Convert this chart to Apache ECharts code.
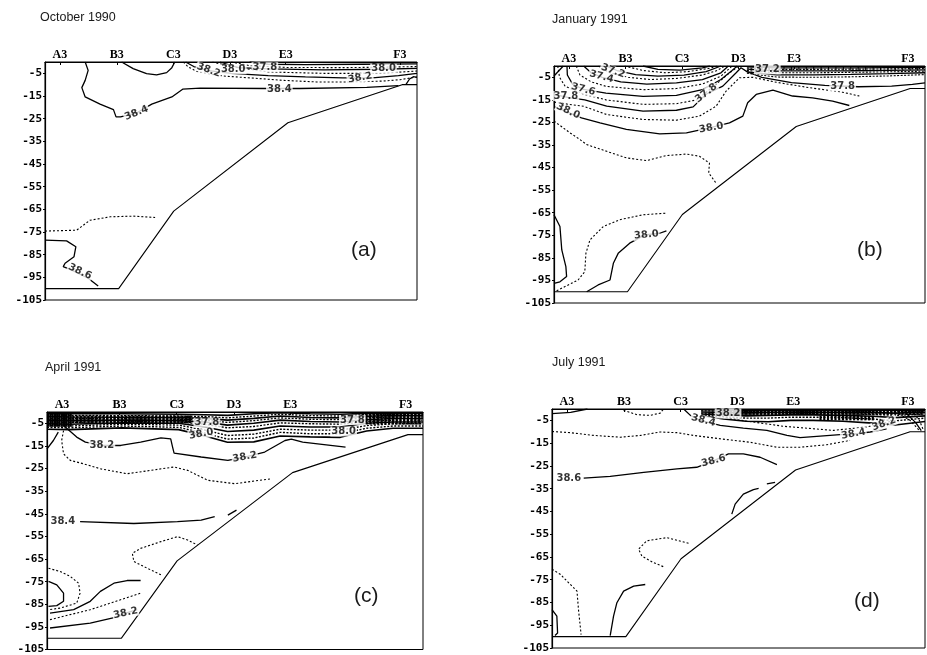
<!DOCTYPE html>
<html><head><meta charset="utf-8">
<script src="https://cdn.jsdelivr.net/npm/echarts@6/dist/echarts.min.js"></script>
<style>html,body{margin:0;padding:0;background:#fff}#c{width:927px;height:655px}</style>
</head><body><div id="c"></div>
<script>
// ---------- DATA ----------
const months = ['October 1990', 'January 1991', 'April 1991', 'July 1991'];
const letters = ['(a)', '(b)', '(c)', '(d)'];
const stations = ['A3', 'B3', 'C3', 'D3', 'E3', 'F3'];
const stationX = [4.0, 19.3, 34.5, 49.7, 64.7, 95.4];
const depthTicks = [-5, -15, -25, -35, -45, -55, -65, -75, -85, -95, -105];
const bottomProfile = [[0,-100],[19.8,-100],[34.6,-65.8],[65.3,-26.8],[96,-10],[100,-10]];

// Panel (a) October 1990
const octSolid = [
  [[10.8,0],[11.6,-3.7],[10.8,-8.1],[9.9,-11.3],[10.8,-15.4],[14.8,-18.6],[18.4,-21],[19.1,-24.2],[20.3,-24.2],[24.6,-22.5],[28.7,-18.6],[34.1,-15.4],[37,-12],[41.7,-11.5],[59.6,-11.7],[68.5,-11.7],[86.5,-11.2],[95,-10.4]],
  [[20.6,0],[23.7,-2.9],[27.3,-5.1],[30,-5.7],[32.7,-4.7],[34.1,-2.5],[34.9,0]],
  [[0,-78.6],[5.8,-78.9],[8.3,-81.5],[7.8,-85.9],[5.4,-88.8],[4.9,-90.3],[7.2,-91.8],[11.6,-95.4],[14.3,-98.8]],
  [[97,-10],[98,-7.5],[99,-6.5],[100,-6.8]],
  [[37.8,0],[40,-2],[44,-3.8],[50,-5],[60,-6],[70,-6.6],[80,-7],[88,-7],[95,-6],[100,-5]],
  [[47,0],[52,-2.5],[60,-3],[75,-3.5],[90,-3.2],[100,-2.8]],
  [[55,0],[60,-1],[70,-1.2],[85,-1],[100,-0.8]]
];
const octDotted = [
  [[37.2,0],[38.5,-2.2],[40.8,-4.1],[44.4,-5.4],[48.8,-6.3],[55.1,-7],[64.1,-8.1],[73,-8.8],[82,-8.8],[91,-8.4],[95.4,-7.8],[100,-6.6]],
  [[45,0],[50,-2],[60,-4.4],[75,-5],[90,-5],[100,-4]],
  [[50,0],[55,-1.6],[65,-2.4],[80,-2.5],[90,-2.3],[100,-2]],
  [[0,-74.6],[8.5,-74.2],[12.1,-69.8],[17.5,-68.3],[23.7,-68],[29.6,-68.6]]
];
const octLabels = [[24.6,-22.5,'38.4'],[63,-12,'38.4'],[9.4,-92.5,'38.6'],[44,-3.6,'38.2'],[50.6,-3.2,'38.0'],[59.1,-2.3,'37.8'],[84.7,-7,'38.2'],[91,-3,'38.0']];
const octHatch = [];

// Panel (b) January 1991
const janBandX = [52, 56, 60, 70, 80, 90, 100];
const janBandSolid = [
  [-0.4,-0.6,-0.8,-0.8,-0.8,-0.7,-0.6],
  [-1.4,-1.8,-2.2,-2.2,-2.1,-1.9,-1.7],
  [-2.6,-3.3,-3.9,-3.9,-3.7,-3.4,-3.0]
];
const janBandDotted = [
  [-0.9,-1.2,-1.5,-1.5,-1.4,-1.3,-1.1],
  [-2.0,-2.5,-3.0,-3.0,-2.8,-2.6,-2.3],
  [-3.2,-4.1,-4.9,-5.0,-4.8,-4.4,-3.8]
];
const janSolid = [
  [[0,-65.9],[1.6,-71.1],[2.1,-81.5],[3.2,-88.9],[3.4,-93.3],[1.6,-95.6],[0,-96.3]],
  [[8.8,-100],[11.9,-97],[15.1,-94.8],[16,-87.4],[17.3,-83],[20.4,-78.5],[24.5,-74.8],[28.5,-74.1],[30.3,-73]],
  [[0,-18],[3,-20],[7.4,-23],[12.4,-25.2],[19.5,-28.1],[28.5,-30.1],[35.7,-29.6],[41.9,-27.4],[47.3,-25.2],[50.9,-22.2],[52.2,-16.3],[54.5,-12.6],[59,-10.7],[64.3,-13.3],[69.7,-14.1],[75.1,-15.6],[79.6,-17.5]],
  [[0,-12.6],[4,-14],[8.3,-15],[14.2,-17.8],[24,-20],[33,-19.6],[37.5,-18.1],[41,-12.5],[45.5,-8.9],[49.1,-3],[50.4,-0.8],[52,-2.5],[56,-5],[64,-7.4],[73,-8.6],[82,-9.2],[91,-8.9],[96.6,-8.1],[100,-7.5]],
  [[3.5,0],[3.6,-4],[5,-8],[8,-10.4],[14,-12],[24,-13.5],[33,-13],[40,-10.5],[45,-6],[48,-2],[49.4,0]],
  [[8,0],[10,-3],[13,-5],[18,-7],[25,-8],[33,-7.5],[40,-6],[45,-3],[47,0]],
  [[14,0],[17,-2],[22,-3.8],[28,-4.5],[35,-4],[41,-2.5],[45,0]],
  [[24,0],[28,-1.5],[34,-1.8],[40,-0.8],[42,0]],
  [[0,-4.4],[2.5,0]]
];
const janDotted = [
  [[0.7,-99.6],[6.5,-94.8],[8.3,-91.1],[8.6,-83],[9.7,-77],[13.3,-71.1],[17.7,-68.1],[24,-65.9],[30.3,-65.2]],
  [[0,-24.4],[4.3,-29.6],[7,-32.6],[8.8,-34.8],[14.2,-37.8],[19.5,-40.7],[24.9,-41.9],[30.3,-39.7],[35.7,-39],[39.2,-40],[41.9,-43],[41.7,-47.4],[43.7,-51.9]],
  [[0,-16],[4,-17],[7.9,-17.8],[14.2,-21.5],[24,-23.7],[33,-24],[39.2,-22.2],[43.7,-17.8],[46.4,-11.1],[50,-5.2],[53.6,-5],[59.9,-7.2],[68.8,-9.6],[77.8,-11.6],[82.3,-13.3]],
  [[1,0],[1.5,-5],[3,-9],[8,-12.5],[14,-15],[24,-17],[33,-16.7],[38.5,-15],[43,-9],[47,-3.5],[49.8,0]],
  [[6,0],[7,-4],[10,-7],[14,-9],[24,-10.5],[33,-10],[40,-8],[45,-4.5],[48,0]],
  [[12,0],[15,-3],[20,-5],[26,-6],[33,-5.5],[40,-4],[44,-2],[46,0]],
  [[19,0],[24,-2],[30,-3],[36,-2.5],[42,-1],[44,0]]
];
const janLabels = [[15.9,-2.2,'37.2'],[12.8,-4.7,'37.4'],[7.9,-10.4,'37.6'],[3.2,-13.3,'37.8'],[3.8,-20,'38.0'],[41,-12,'37.8'],[42.4,-27.4,'38.0'],[24.9,-74.8,'38.0'],[77.8,-9,'37.8'],[57.5,-1.5,'37.2']];
const janHatch = [
  [[58,60,62,64,66,68,70,72,74,76,78,80,82,84,86,88,90,92,94,96,98], 0, -2]
];

// Panel (c) April 1991
const aprBandX = [0, 6, 20, 35, 42, 48, 55, 62, 70, 78, 85, 92, 100];
const aprBandSolid = [
  [-0.6,-0.8,-0.8,-1.0,-1.2,-1.5,-0.8,-0.3,-0.8,-1.0,-0.6,-0.5,-0.5],
  [-2.0,-2.2,-2.3,-2.5,-2.8,-3.6,-2.8,-1.8,-2.4,-2.6,-1.9,-1.6,-1.6],
  [-3.6,-3.8,-3.6,-3.8,-4.4,-5.8,-5.0,-3.6,-4.2,-4.4,-3.4,-2.9,-2.9],
  [-5.2,-5.4,-4.8,-5.0,-6.6,-8.6,-8.0,-6.2,-6.6,-6.6,-5.0,-4.4,-4.4],
  [-7.6,-7.8,-7.0,-7.8,-10.6,-13.4,-13.2,-10.6,-11.0,-11.2,-8.4,-7.2,-7.2]
];
const aprBandDotted = [
  [-1.2,-1.5,-1.6,-1.8,-2.0,-2.6,-1.8,-1.0,-1.6,-1.8,-1.2,-1.0,-1.0],
  [-2.8,-3.0,-3.0,-3.2,-3.6,-4.6,-3.8,-2.6,-3.2,-3.4,-2.6,-2.2,-2.2],
  [-4.4,-4.6,-4.2,-4.4,-5.4,-7.0,-6.4,-4.8,-5.2,-5.4,-4.2,-3.6,-3.6],
  [-6.0,-6.2,-5.4,-5.8,-8.0,-10.4,-9.8,-7.6,-8.0,-8.0,-6.0,-5.2,-5.2],
  [-6.8,-7.0,-6.2,-6.8,-9.4,-12.0,-11.5,-9.0,-9.6,-9.6,-7.2,-6.2,-6.2]
];
const aprSolid = [
  [[4.4,-6],[7.9,-11.1],[10.2,-13.3],[14.6,-14.8],[19.6,-14.8],[24.9,-13.3],[30.3,-11.4],[32.9,-11.9],[33.4,-15.5],[33.8,-18.2],[41,-19.9],[48.1,-21.4],[52.6,-19.9],[57.9,-17.7],[63.3,-12.6],[65,-12],[68,-13.3],[79.4,-15.5]],
  [[8.8,-48.5],[23.1,-49.3],[34.7,-48.5],[41,-47.8],[44.6,-46.3]],
  [[48.1,-45.6],[50.4,-43.4]],
  [[0,-16.3],[1.7,-12.6],[3,-8.9]],
  [[0.4,-74.9],[2.6,-76.4],[4.4,-80.1],[4.4,-83.7],[2.6,-85.6],[0.4,-85.9]],
  [[0.8,-88.9],[7.1,-87.4],[11.5,-83.7],[14.2,-79.3],[17.8,-75.7],[21.3,-74.5],[24.9,-74.5]],
  [[0.8,-95.5],[11.5,-93.3],[18.7,-90.6],[20.9,-88.9],[24,-87.4]]
];
const aprDotted = [
  [[4.4,-8.2],[3.9,-12.6],[4.4,-18.5],[6.2,-21.4],[9.7,-22.9],[14.2,-25.1],[21.3,-27.3],[27.6,-25.8],[33.8,-24.3],[37.4,-25.8],[42.8,-30.2],[49.9,-31.7],[59.7,-29.5]],
  [[30.3,-72],[26.7,-69.1],[23.1,-66.1],[22.7,-62.5],[24.9,-60.3],[30.3,-57.3],[34.7,-55.1],[37.4,-56.6],[40,-58.8]],
  [[0.4,-69.1],[3.5,-70.5],[6.2,-72.7],[8.4,-75.7],[8.8,-80.1],[7.9,-84.5],[3.5,-86.7],[0.4,-87.4]],
  [[0.8,-91.8],[11.5,-87.4],[24.9,-80.1]]
];
const aprLabels = [[14.6,-14.8,'38.2'],[52.6,-19.9,'38.2'],[4.2,-48.5,'38.4'],[20.9,-88.9,'38.2'],[42.5,-4.8,'37.8'],[41,-9.7,'38.0'],[81.2,-3.6,'37.8'],[78.9,-8.6,'38.0']];
const aprHatch = [
  [[0.3,0.9,1.5,2.1,2.7,3.3,3.9,4.5,5.1,5.7,6.3], 0, -6.5],
  [[7,8,9,10,11,12,13,14,15,16,17,18,19,20,21,22,23,24,25,26,27,28,29,30,31,32,33,34,35,36,37,38], -1.5, -5.0],
  [[84,85,86,87,88,89,90,91,92,93,94,95,96,97,98,99], 0, -5.5]
];

// Panel (d) July 1991
const julBandX = [40, 46, 52, 58, 64, 70, 78, 86, 92, 100];
const julBandSolid = [
  [-0.3,-0.4,-0.5,-0.5,-0.5,-0.5,-0.5,-0.5,-0.5,-0.5],
  [-1.3,-1.5,-1.6,-1.5,-1.5,-1.5,-1.5,-1.6,-1.8,-1.5],
  [-2.2,-2.6,-3.0,-2.8,-2.6,-2.6,-2.8,-3.2,-3.8,-3.0],
  [-3.0,-4.4,-5.4,-5.6,-5.0,-5.0,-5.4,-6.2,-7.0,-5.5]
];
const julBandDotted = [
  [-0.8,-0.9,-1.0,-1.0,-1.0,-1.0,-1.0,-1.0,-1.0,-1.0],
  [-1.8,-2.0,-2.2,-2.1,-2.0,-2.0,-2.1,-2.4,-2.8,-2.2],
  [-2.6,-3.4,-4.0,-4.0,-3.6,-3.6,-3.8,-4.4,-5.2,-4.0]
];
const julSolid = [
  [[0,-2],[5,-1.5],[9.5,0]],
  [[35.3,0],[37.1,-2.8],[38.8,-4.3],[40.6,-5.3],[45.1,-7.2],[51.3,-8.4],[57.6,-9.4],[63,-11.6],[66.5,-12.6],[71.9,-11.9],[77.2,-11.3],[80.8,-11],[85.3,-10.1],[89.7,-8.7]],
  [[8.5,-30.4],[15.6,-29.6],[24.6,-27.8],[33.5,-26.3],[38.8,-25.6],[43.3,-22.8],[47.3,-19.7],[51.3,-19.7],[55.8,-21.2],[60.3,-24.4]],
  [[48.2,-46.2],[49.1,-41.8],[51.3,-37.4],[54,-35.4],[55.4,-34.9]],
  [[57.6,-32.9],[59.8,-32.2]],
  [[0,-88.1],[1.3,-91],[1.5,-98.4],[0.8,-99.5]],
  [[15.6,-99.6],[16.5,-91],[17.4,-85.1],[19.2,-80],[21.9,-77.8],[25,-77.1]],
  [[95,-2],[97.5,-6],[99,-9.5]]
];
const julDotted = [
  [[19.2,-0.6],[22.8,-2.5],[26.3,-2.8],[29,-1.8],[29.9,0]],
  [[0,-9.9],[4.9,-10.4],[11.2,-11.6],[18.3,-12.4],[23.7,-11.6],[29,-10.1],[33.5,-10.4],[37.9,-11.6],[45.1,-13.1],[53.1,-14.6],[60.3,-16.8],[66.5,-16.8],[73.7,-15.7],[79.9,-13.8]],
  [[36.6,-59],[30.8,-56.5],[25.4,-57.9],[23.2,-61.6],[24.1,-64.6],[27.2,-67.5],[29.9,-69.3]],
  [[0,-70.4],[2.2,-72.6],[6.7,-80],[7.1,-88.1],[7.8,-99.1]],
  [[42.4,-2.1],[50,-4.8],[62.1,-7.6],[75.4,-9.4],[84.4,-7.9],[92,-5]],
  [[93,-2],[96,-5],[98.5,-9.5]],
  [[97,-2],[98.5,-5],[99.5,-9]]
];
const julLabels = [[40.6,-5,'38.4'],[47.2,-2,'38.2'],[80.8,-11,'38.4'],[89,-6.5,'38.2'],[4.5,-30.4,'38.6'],[43.3,-22.8,'38.6']];
const julHatch = [
  [[46,47,48,49,50,51,52,53,54,55,56,57,58,59,60,61,62,63,64,65,66,67,68,69,70,71,72,73,74,75,76,77,78,79,80,81,82,83,84,85,86,87,88,89,90,91,92,93,94,95,96,97,98,99], 0, -2.6],
  [[72,73,74,75,76,77,78,79,80,81,82,83,84,85,86], -3.0, -5.0]
];

// ---------- STYLE / LAYOUT ----------
const labelTilt = [
  [22, 0, -25, -20, 0, 0, 10, 0],
  [-20, -15, -15, 0, -25, 38, 10, 5, 0, 0],
  [0, 10, 0, 12, 0, 10, 0, 0],
  [-15, 0, 10, 20, 0, 15]
];
const grids = [
  {left: 45, top: 62, width: 372, height: 238},
  {left: 554, top: 66, width: 371, height: 237},
  {left: 47, top: 412, width: 376, height: 238},
  {left: 552, top: 409, width: 373, height: 239}
];
const titlePos = [[40, 11], [552, 13], [45, 361], [552, 356]];
const letterPos = [[351, 240], [857, 240], [354, 586], [854, 591]];
const hatchWidth = [1, 1, 2.2, 2.2];
const bandWidth = [1.3, 1.3, 1.6, 1.6];

function band(xs, rows) { return rows.map(r => xs.map((x, i) => [x, r[i]])); }
function hatch(groups) {
  const out = [];
  groups.forEach(g => g[0].forEach(x => out.push([[x, g[1]], [x, g[2]]])));
  return out;
}

const panels = [
  {solid: octSolid, dotted: octDotted, bandS: [], bandD: [], labels: octLabels, hatch: hatch(octHatch)},
  {solid: janSolid, dotted: janDotted, bandS: band(janBandX, janBandSolid), bandD: band(janBandX, janBandDotted), labels: janLabels, hatch: hatch(janHatch)},
  {solid: aprSolid, dotted: aprDotted, bandS: band(aprBandX, aprBandSolid), bandD: band(aprBandX, aprBandDotted), labels: aprLabels, hatch: hatch(aprHatch)},
  {solid: julSolid, dotted: julDotted, bandS: band(julBandX, julBandSolid), bandD: band(julBandX, julBandDotted), labels: julLabels, hatch: hatch(julHatch)}
];

function stationName(v) {
  let best = 0;
  stationX.forEach((x, i) => { if (Math.abs(x - v) < Math.abs(stationX[best] - v)) best = i; });
  return stations[best];
}

const INK = '#000';
const option = {
  backgroundColor: '#fff',
  animation: false,
  title: [],
  grid: [], xAxis: [], yAxis: [], series: []
};

panels.forEach((p, k) => {
  option.title.push({text: months[k], left: titlePos[k][0], top: titlePos[k][1], padding: 0,
    textStyle: {fontFamily: 'Liberation Sans', fontSize: 12.5, fontWeight: 'normal', color: '#1a1a1a'}});
  option.title.push({text: letters[k], left: letterPos[k][0], top: letterPos[k][1], padding: 0,
    textStyle: {fontFamily: 'Liberation Sans', fontSize: 21, fontWeight: 'normal', color: '#1a1a1a'}});
  option.grid.push(Object.assign({show: true, borderColor: INK, borderWidth: 1, backgroundColor: 'transparent'}, grids[k]));
  option.xAxis.push({
    type: 'value', gridIndex: k, position: 'top', min: 0, max: 100,
    axisLine: {show: true, onZero: false, lineStyle: {color: INK, width: 1.2}},
    axisTick: {show: true, inside: true, length: 3, customValues: stationX, lineStyle: {color: INK}},
    axisLabel: {customValues: stationX, formatter: stationName, margin: 1, color: '#000',
      fontFamily: 'Liberation Serif', fontWeight: 'bold', fontSize: 12},
    splitLine: {show: false}
  });
  option.yAxis.push({
    type: 'value', gridIndex: k, min: -105, max: 0,
    axisLine: {show: true, onZero: false, lineStyle: {color: INK, width: 1.2}},
    axisTick: {show: true, inside: false, length: 2, customValues: depthTicks, lineStyle: {color: INK}},
    axisLabel: {customValues: depthTicks, margin: 3, color: '#000',
      fontFamily: 'DejaVu Sans Mono', fontWeight: 'bold', fontSize: 11},
    splitLine: {show: false}
  });
  const base = {type: 'line', xAxisIndex: k, yAxisIndex: k, showSymbol: false, symbol: 'none', silent: true, clip: true};
  option.series.push(Object.assign({}, base, {data: bottomProfile, lineStyle: {color: INK, width: 1.1}, z: 3}));
  p.solid.forEach(line => option.series.push(Object.assign({}, base, {data: line, lineStyle: {color: INK, width: 1.3}, z: 2})));
  p.dotted.forEach(line => option.series.push(Object.assign({}, base, {data: line, lineStyle: {color: INK, width: 1.1, type: [2, 2]}, z: 2})));
  p.bandS.forEach(line => option.series.push(Object.assign({}, base, {data: line, lineStyle: {color: INK, width: bandWidth[k]}, z: 2})));
  p.bandD.forEach(line => option.series.push(Object.assign({}, base, {data: line, lineStyle: {color: INK, width: bandWidth[k] - 0.2, type: [2, 1.5]}, z: 2})));
  p.hatch.forEach(line => option.series.push(Object.assign({}, base, {data: line, lineStyle: {color: INK, width: hatchWidth[k]}, z: 2})));
  option.series.push({
    type: 'scatter', xAxisIndex: k, yAxisIndex: k, silent: true, z: 5,
    symbol: 'circle', symbolSize: 0.1, itemStyle: {color: 'rgba(0,0,0,0)'},
    data: p.labels.map((l, i) => ({value: [l[0], l[1]], name: l[2], label: {rotate: labelTilt[k][i] || 0}})),
    label: {show: true, position: 'inside', formatter: q => q.name, color: '#000',
      fontFamily: 'DejaVu Sans', fontWeight: 'bold', fontSize: 10,
      backgroundColor: '#fff', padding: [0, 1]}
  });
});

const chart = echarts.init(document.getElementById('c'), null, {renderer: 'canvas'});
chart.setOption(option);
</script></body></html>
